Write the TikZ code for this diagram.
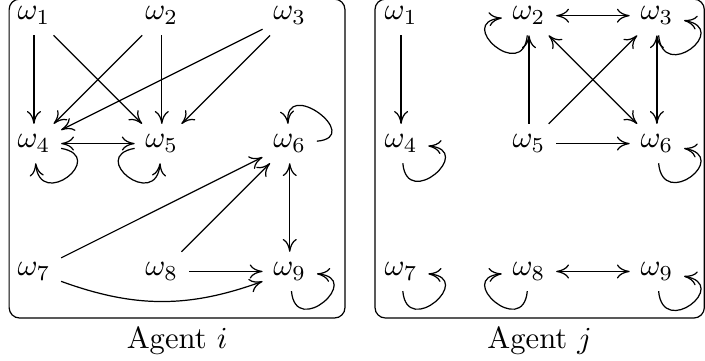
\documentclass[tikz,border=0pt]{standalone}
\usepackage{tikz}
\usetikzlibrary{positioning,arrows.meta}

\newcommand{\gap}{1.47}
% nine states of one agent, #1 = name prefix, #2 = x of first column
\newcommand{\agentgrid}[2]{%
    \node (#11) at (#2, -0.18) {$\omega_1$};%
    \node (#12) at (#2+\gap, -0.18) {$\omega_2$};%
    \node (#13) at (#2+2*\gap, -0.18) {$\omega_3$};%
    \node (#14) at (#2, -0.18-\gap) {$\omega_4$};%
    \node (#15) at (#2+\gap, -0.18-\gap) {$\omega_5$};%
    \node (#16) at (#2+2*\gap, -0.18-\gap) {$\omega_6$};%
    \node (#17) at (#2, -0.18-2*\gap) {$\omega_7$};%
    \node (#18) at (#2+\gap, -0.18-2*\gap) {$\omega_8$};%
    \node (#19) at (#2+2*\gap, -0.18-2*\gap) {$\omega_9$};%
}

\begin{document}
\begin{tikzpicture}[
        >={To[length=4.2pt,width=4.6pt]},
        agentbox/.style={draw, rounded corners=1.2mm, inner sep=0pt},
        selfloop/.style={min distance=5.5mm}
    ]
        \useasboundingbox (0, 0) rectangle (8.103, -4.138);

        % Frames and captions
        \node (boxi) [agentbox, minimum width=3.86cm, minimum height=3.665cm] at (2.035, -1.8225) {};
        \node (boxj) [agentbox, minimum width=3.785cm, minimum height=3.665cm] at (6.2025, -1.8225) {};
        \node (agenti) [below=-1pt of boxi] {Agent $i$};
        \node (agentj) [below=-1pt of boxj] {Agent $j$};

        \agentgrid{i}{0.39}
        \agentgrid{j}{4.61}

        % --- Agent i ---
        \draw[->] (i1) -- (i4);
        \draw[->] (i1) -- (i5);
        \draw[->] (i2) -- (i4);
        \draw[->] (i2) -- (i5);
        \draw[->] (i3) -- (i4);
        \draw[->] (i3) -- (i5);
        \draw[<->] (i4) -- (i5);
        \draw[<->] (i6) -- (i9);
        \draw[->] (i7) -- (i6);
        \draw[->] (i8) -- (i6);
        \draw[->] (i8) -- (i9);
        \draw[->] (i7) to[bend right=20] (i9);
        \draw[->] (i4) to[selfloop, out=-10, in=-85] (i4);
        \draw[->] (i5) to[selfloop, out=190, in=-95] (i5);
        \draw[->] (i6) to[selfloop, out=5, in=95] (i6);
        \draw[->] (i9) to[selfloop, out=-85, in=-5] (i9);

        % --- Agent j ---
        \draw[->] (j1) -- (j4);
        \draw[<->] (j2) -- (j3);
        \draw[->] (j5) -- (j2);
        \draw[->] (j5) -- (j3);
        \draw[<->] (j2) -- (j6);
        \draw[<->] (j3) -- (j6);
        \draw[->] (j5) -- (j6);
        \draw[<->] (j8) -- (j9);
        \draw[->] (j2) to[selfloop, out=-95, in=185] (j2);
        \draw[->] (j3) to[selfloop, out=-85, in=-10] (j3);
        \draw[->] (j4) to[selfloop, out=-85, in=-5] (j4);
        \draw[->] (j6) to[selfloop, out=-85, in=-10] (j6);
        \draw[->] (j7) to[selfloop, out=-85, in=-5] (j7);
        \draw[->] (j8) to[selfloop, out=-95, in=185] (j8);
        \draw[->] (j9) to[selfloop, out=-85, in=-10] (j9);

    \end{tikzpicture}
\end{document}
